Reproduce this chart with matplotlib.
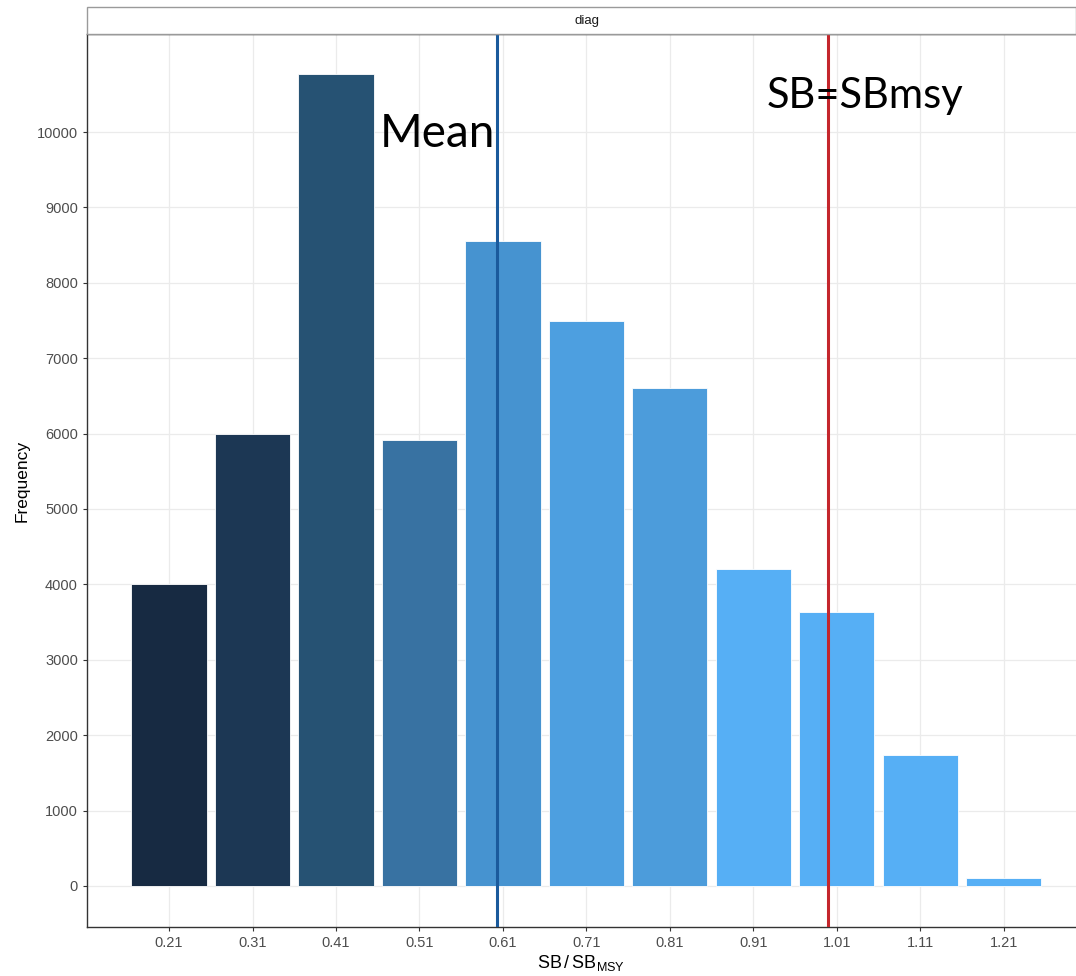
import matplotlib
matplotlib.use("Agg")
import matplotlib.pyplot as plt
from matplotlib.patches import Rectangle

plt.rcParams['font.family'] = ['Liberation Sans', 'DejaVu Sans']
plt.rcParams['mathtext.default'] = 'regular'

# data
bins = [0.21, 0.31, 0.41, 0.51, 0.61, 0.71, 0.81, 0.91, 1.01, 1.11, 1.21]
counts = [4000, 5990, 10770, 5920, 8550, 7490, 6610, 4210, 3630, 1730, 100]
colors = ["#172a42", "#1c3754", "#265273", "#3872a2", "#4693d0",
          "#4d9fe0", "#4c9cdb", "#56aff5", "#56aff5", "#56aff5", "#56aff5"]
mean_val = 0.6025
msy_val = 1.0
yticks = list(range(0, 11000, 1000))

fig = plt.figure(figsize=(10.76, 9.76), dpi=100)
ax = fig.add_axes([87/1076, 49/976, 989/1076, 893/976])

ax.bar(bins, counts, width=0.09, color=colors, edgecolor="white",
       linewidth=0.6, zorder=2)
ax.axvline(mean_val, color="#1a5a9c", lw=2.2, zorder=3)
ax.axvline(msy_val, color="#c4262c", lw=2.2, zorder=3)

ax.text(0.463, 9800, "Mean", fontsize=33, family="Lato", color="black",
        ha="left", va="baseline", zorder=4)
ax.text(0.926, 10320, "SB=SBmsy", fontsize=30, family="Lato", color="black",
        ha="left", va="baseline", zorder=4)

ax.set_xlim(0.1117, 1.2965)
ax.set_ylim(-545, 11300)
ax.set_xticks(bins)
ax.set_xticklabels([f"{b:.2f}" for b in bins])
ax.set_yticks(yticks)
ax.grid(True, color="#ebebeb", lw=0.9, zorder=0)
ax.set_axisbelow(True)
ax.tick_params(colors="#333333", labelcolor="#4d4d4d", labelsize=10.5,
               length=3, width=0.8)

ax.spines["right"].set_visible(False)
for s in ["left", "bottom", "top"]:
    ax.spines[s].set_color("#333333")
    ax.spines[s].set_linewidth(1.0)

ax.set_ylabel("Frequency", fontsize=12.5, labelpad=5)
ax.set_xlabel(r"SB$\,/\,$SB$_{MSY}$", fontsize=13, labelpad=2)

# facet strip
strip = Rectangle((87/1076, 942/976), 989/1076, 27/976, transform=fig.transFigure,
                  facecolor="white", edgecolor="#9a9a9a", lw=1.0)
fig.patches.append(strip)
fig.text((87 + 1076) / 2 / 1076 + 0.005, 955/976, "diag", fontsize=9.5,
         color="#1a1a1a", ha="center", va="center")

fig.savefig("out.png", dpi=100)
